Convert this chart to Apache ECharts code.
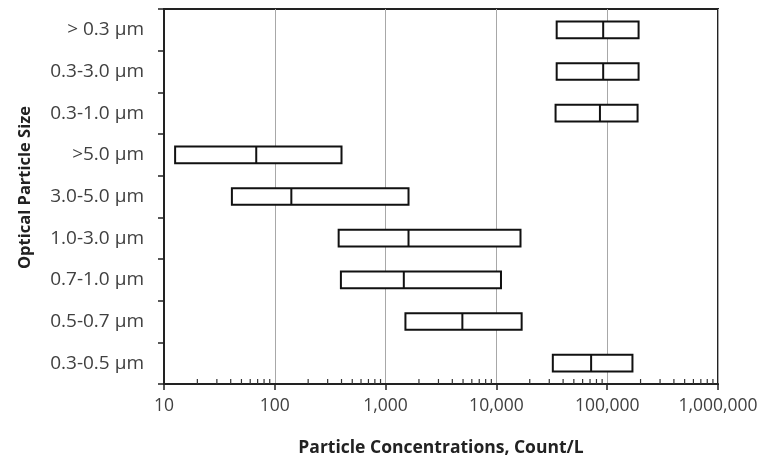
<!DOCTYPE html>
<html>
<head>
<meta charset="utf-8">
<script src="https://cdn.jsdelivr.net/npm/echarts@6/dist/echarts.min.js"></script>
<style>html,body{margin:0;padding:0;background:#fff;}#c{width:770px;height:462px;}</style>
</head>
<body>
<div id="c"></div>
<script>
// Categories, bottom to top
const categories = ['0.3-0.5 µm', '0.5-0.7 µm', '0.7-1.0 µm', '1.0-3.0 µm', '3.0-5.0 µm', '>5.0 µm', '0.3-1.0 µm', '0.3-3.0 µm', '> 0.3 µm'];
const lowValues    = [32300, 1510, 395, 377, 41, 12.6, 34200, 35000, 35000];
const medianValues = [71600, 4930, 1460, 1610, 141, 68, 86000, 92000, 92000];
const highValues   = [169000, 16900, 11000, 16500, 1610, 400, 188000, 192000, 192000];
const xTickLabels = ['10', '100', '1,000', '10,000', '100,000', '1,000,000'];
const xMin = 10, xMax = 1000000;
// minor tick values: 2..9 times each decade
const minorTickValues = [];
for (let d = 10; d < xMax; d *= 10) for (let m = 2; m <= 9; m++) minorTickValues.push(m * d);

const boxData = categories.map((c, i) => [lowValues[i], medianValues[i], highValues[i], i]);

const font = 'Open Sans';
const chart = echarts.init(document.getElementById('c'), null, {renderer: 'canvas'});
chart.setOption({
  animation: false,
  backgroundColor: '#fff',
  grid: {left: 164, right: 52, top: 9, bottom: 77, show: true, borderColor: '#222', borderWidth: 2, containLabel: false},
  xAxis: {
    type: 'log', logBase: 10, min: xMin, max: xMax,
    name: 'Particle Concentrations, Count/L', nameLocation: 'middle', nameGap: 55,
    nameTextStyle: {fontFamily: font, fontWeight: 'bold', fontSize: 17.5, color: '#222'},
    axisLine: {show: true, lineStyle: {color: '#222', width: 2}},
    axisTick: {show: true, length: 6, lineStyle: {color: '#222', width: 1.5}},
    axisLabel: {fontFamily: font, fontSize: 17.5, color: '#404040', margin: 13,
      formatter: v => { const i = Math.round(Math.log10(v)) - 1; return xTickLabels[i] !== undefined ? xTickLabels[i] : ''; }},
    splitLine: {show: true, lineStyle: {color: '#a8a8a8', width: 1}}
  },
  yAxis: {
    type: 'category', data: categories,
    name: 'Optical Particle Size', nameLocation: 'middle', nameGap: 130,
    nameTextStyle: {fontFamily: font, fontWeight: 'bold', fontSize: 16.5, color: '#222', padding: [0, 0, 0, 18]},
    axisLine: {show: true, lineStyle: {color: '#222', width: 2}},
    axisTick: {show: true, length: 6, lineStyle: {color: '#222', width: 1.5}},
    axisLabel: {fontFamily: font, fontSize: 19, color: '#404040', margin: 20},
    splitLine: {show: false}
  },
  series: [
    {
      type: 'custom',
      data: boxData,
      encode: {x: [0, 1, 2], y: 3},
      renderItem: function (params, api) {
        const yi = api.value(3);
        const p0 = api.coord([api.value(0), yi]);
        const p1 = api.coord([api.value(1), yi]);
        const p2 = api.coord([api.value(2), yi]);
        const band = Math.abs(api.coord([100, 1])[1] - api.coord([100, 0])[1]);
        const h = band * 0.40;
        return {
          type: 'group',
          children: [
            {type: 'rect', shape: {x: p0[0], y: p0[1] - h / 2, width: p2[0] - p0[0], height: h},
             style: {fill: '#fff', stroke: '#111', lineWidth: 2}},
            {type: 'line', shape: {x1: p1[0], y1: p0[1] - h / 2, x2: p1[0], y2: p0[1] + h / 2},
             style: {stroke: '#111', lineWidth: 2}}
          ]
        };
      },
      z: 5
    },
    {
      type: 'custom',
      data: minorTickValues.map(v => [v, 0]),
      encode: {x: 0, y: 1},
      silent: true,
      clip: false,
      renderItem: function (params, api) {
        const x = api.coord([api.value(0), 0])[0];
        const bottom = params.coordSys.y + params.coordSys.height;
        return {type: 'line', shape: {x1: x, y1: bottom, x2: x, y2: bottom - 5},
                style: {stroke: '#333', lineWidth: 1.2}};
      },
      z: 4
    }
  ]
});
</script>
</body>
</html>
